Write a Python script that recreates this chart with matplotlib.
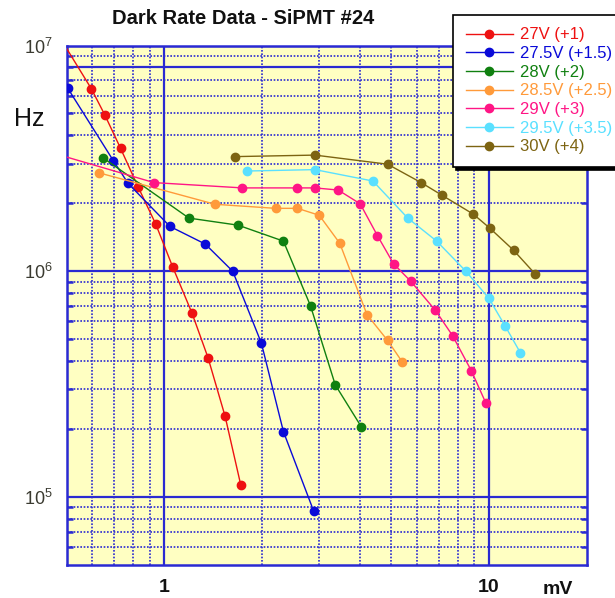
import matplotlib
matplotlib.use('Agg')
import matplotlib.pyplot as plt
from matplotlib.ticker import FixedLocator, NullFormatter, FixedFormatter

plt.rcParams['font.family'] = ['Liberation Sans', 'DejaVu Sans']

# ---- data (mV threshold, Hz) ----
labels = ['27V (+1)', '27.5V (+1.5)', '28V (+2)', '28.5V (+2.5)',
          '29V (+3)', '29.5V (+3.5)', '30V (+4)']
colors = ['#ee1111', '#0a0ad8', '#108010', '#ff9a3a',
          '#ff1585', '#5ae0ff', '#7d6412']

x_27 = [0.45, 0.596, 0.655, 0.733, 0.829, 0.940, 1.062, 1.216, 1.362, 1.538, 1.719]
y_27 = [1.24e7, 6.42e6, 4.93e6, 3.50e6, 2.37e6, 1.62e6, 1.04e6, 6.53e5, 4.15e5, 2.28e5, 1.13e5]

x_275 = [0.503, 0.696, 0.773, 1.04, 1.336, 1.624, 1.99, 2.326, 2.88]
y_275 = [6.49e6, 3.09e6, 2.45e6, 1.58e6, 1.32e6, 1.0e6, 4.80e5, 1.95e5, 8.7e4]

x_28 = [0.647, 1.19, 1.687, 2.326, 2.82, 3.36, 4.04]
y_28 = [3.18e6, 1.72e6, 1.60e6, 1.36e6, 7.02e5, 3.14e5, 2.05e5]

x_285 = [0.628, 1.432, 2.20, 2.57, 3.00, 3.47, 4.21, 4.87, 5.41]
y_285 = [2.73e6, 1.98e6, 1.90e6, 1.90e6, 1.77e6, 1.33e6, 6.42e5, 4.94e5, 3.96e5]

x_29 = [0.45, 0.929, 1.74, 2.57, 2.91, 3.43, 4.01, 4.53, 5.08, 5.74, 6.84, 7.72, 8.82, 9.79]
y_29 = [3.35e6, 2.47e6, 2.34e6, 2.34e6, 2.34e6, 2.29e6, 1.99e6, 1.44e6, 1.08e6,
        9.03e5, 6.71e5, 5.19e5, 3.63e5, 2.60e5]

x_295 = [1.80, 2.91, 4.39, 5.62, 6.90, 8.49, 9.99, 11.2, 12.5]
y_295 = [2.78e6, 2.82e6, 2.51e6, 1.72e6, 1.36e6, 1.00e6, 7.59e5, 5.74e5, 4.35e5]

x_30 = [1.65, 2.91, 4.87, 6.18, 7.17, 8.95, 10.07, 11.9, 13.9]
y_30 = [3.22e6, 3.27e6, 2.98e6, 2.47e6, 2.17e6, 1.79e6, 1.55e6, 1.24e6, 9.7e5]

xs = [x_27, x_275, x_28, x_285, x_29, x_295, x_30]
ys = [y_27, y_275, y_28, y_285, y_29, y_295, y_30]

x_major = [1, 10]
x_minor = [0.6, 0.7, 0.8, 0.9, 2, 3, 4, 5, 6, 7, 8, 9]
x_major_labels = ['1', '10']
y_major = [1e5, 1e6, 1e7]
y_minor = [6e4, 7e4, 8e4, 9e4, 2e5, 3e5, 4e5, 5e5, 6e5, 7e5, 8e5, 9e5,
           2e6, 3e6, 4e6, 5e6, 6e6, 7e6, 8e6, 9e6]
y_major_labels = ['$\\mathdefault{10^{5}}$', '$\\mathdefault{10^{6}}$', '$\\mathdefault{10^{7}}$']

# ---- figure ----
W, H = 615, 598
fig = plt.figure(figsize=(W / 100, H / 100), dpi=100)
L, R, T, B = 66.7, 586.7, 45.5, 565
ax = fig.add_axes([L / W, 1 - B / H, (R - L) / W, (B - T) / H])
ax.set_facecolor('#ffffc2')
ax.set_xscale('log')
ax.set_yscale('log')
ax.set_xlim(0.5, 20)
ax.set_ylim(5e4, 1e7)

gridc = '#2a2ad2'
ax.xaxis.set_major_locator(FixedLocator(x_major))
ax.xaxis.set_minor_locator(FixedLocator(x_minor))
ax.xaxis.set_major_formatter(FixedFormatter(x_major_labels))
ax.xaxis.set_minor_formatter(NullFormatter())
ax.yaxis.set_major_locator(FixedLocator(y_major))
ax.yaxis.set_minor_locator(FixedLocator(y_minor))
ax.yaxis.set_major_formatter(FixedFormatter(y_major_labels))
ax.yaxis.set_minor_formatter(NullFormatter())

ax.grid(which='minor', color=gridc, linestyle=(0, (1, 1)), linewidth=1.2)
ax.grid(which='major', color=gridc, linestyle='-', linewidth=1.6)
ax.axhline(8e6, color=gridc, linewidth=1.6, zorder=1)
ax.set_axisbelow(True)

for s in ax.spines.values():
    s.set_color(gridc)
    s.set_linewidth(1.8)

ax.tick_params(axis='x', which='both', length=0, pad=10,
               labelsize=14, labelcolor='#111111')
for t in ax.get_xticklabels():
    t.set_fontweight('bold')
ax.tick_params(axis='y', which='major', length=0, pad=10,
               labelsize=13, labelcolor='#3a3a30')
ax.tick_params(axis='y', which='minor', direction='in', left=True, right=True,
               length=4, width=1.8, color=gridc)

for x, y, c, lab in zip(xs, ys, colors, labels):
    ax.plot(x, y, '-o', color=c, linewidth=1.0, markersize=6, label=lab,
            zorder=3)

fig.text(243 / W, 1 - 18 / H, 'Dark Rate Data - SiPMT #24', ha='center',
         va='center', fontsize=14.5, fontweight='bold', color='#111111')
fig.text(29 / W, 1 - 119 / H, 'Hz', ha='center', va='center', fontsize=18,
         color='#111111')
fig.text(558 / W, 1 - 590 / H, 'mV', ha='center', va='center', fontsize=14,
         fontweight='bold', color='#111111')

leg = ax.legend(loc='upper left', bbox_to_anchor=(453 / W, 1 - 15 / H),
                bbox_transform=fig.transFigure, borderaxespad=0,
                fontsize=12, handlelength=2.85, handletextpad=0.4,
                labelspacing=0.22, borderpad=0.75, frameon=True, fancybox=False,
                labelcolor='linecolor', numpoints=1,
                shadow={'ox': 2.5, 'oy': -2.5, 'facecolor': 'black',
                        'edgecolor': 'black', 'alpha': 1})
leg.get_frame().set_edgecolor('black')
leg.get_frame().set_linewidth(1.2)
leg.get_frame().set_facecolor('white')
leg.get_frame().set_alpha(1)
leg.set_zorder(10)

fig.savefig('out.png', dpi=100)
